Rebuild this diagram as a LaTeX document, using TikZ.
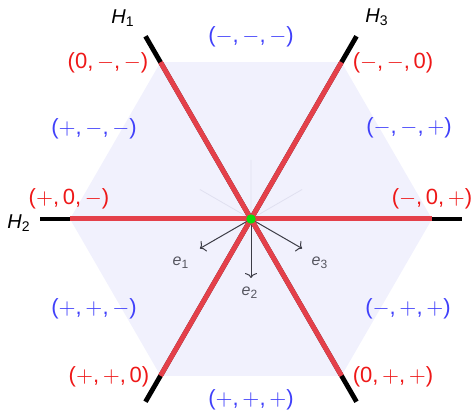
\documentclass[tikz,border=0pt]{standalone}
\usepackage[no-math]{fontspec}
\setmainfont{Liberation Sans}
\usetikzlibrary{arrows.meta}
\definecolor{hexfill}{RGB}{241,241,253}
\definecolor{redline}{RGB}{228,64,74}
\definecolor{redtext}{RGB}{238,24,24}
\definecolor{bluetext}{RGB}{64,64,250}
\definecolor{faint}{RGB}{224,224,240}
\definecolor{arrowgray}{RGB}{60,60,70}
\definecolor{egray}{RGB}{85,85,95}
\definecolor{dotgreen}{RGB}{10,220,10}
\begin{document}
\begin{tikzpicture}[x=0.5pt,y=0.5pt,
  hyper/.style={line width=2.4pt, black},
  redseg/.style={line width=2.5pt, redline},
  faintline/.style={line width=0.4pt, faint},
  basis/.style={line width=0.5pt, arrowgray, -{To[length=2.5pt,width=6pt]}},
  sign/.style={font=\fontsize{11}{13}\selectfont, inner sep=0pt},
  redlab/.style={sign, text=redtext},
  bluelab/.style={sign, text=bluetext},
  hlab/.style={font=\fontsize{10}{12}\selectfont, inner sep=0pt},
  elab/.style={font=\fontsize{8}{10}\selectfont, text=egray, inner sep=0pt}]
\useasboundingbox (0,0) rectangle (474,411);
\begin{scope}[shift={(251,192)}]
  \coordinate (O) at (0,0);
  \foreach \a in {0,60,...,300} {
    \coordinate (V\a) at (\a:181);
    \coordinate (E\a) at (\a:211);
  }
  \foreach \a in {30,90,150} \coordinate (F\a) at (\a:59);
  \foreach \a in {210,270,330} \coordinate (B\a) at (\a:59);
  \fill[hexfill] (V0)--(V60)--(V120)--(V180)--(V240)--(V300)--cycle;
  \draw[faintline] (O)--(F30) (O)--(F90) (O)--(F150);
  \draw[hyper] (E120)--(E300);
  \draw[hyper] (E60)--(E240);
  \draw[hyper] (E180)--(E0);
  \draw[basis] (O)--(B210);
  \draw[basis] (O)--(B270);
  \draw[basis] (O)--(B330);
  \draw[redseg] (V120)--(V300);
  \draw[redseg] (V60)--(V240);
  \draw[redseg] (V180)--(V0);
  \node[circle, fill=dotgreen, minimum size=4.7pt, inner sep=0pt] (dot) at (O) {};
\end{scope}
\node[hlab] (h1) at (123,393) {\itshape H\textsubscript{\upshape 1}};
\node[hlab] (h3) at (377,394) {\itshape H\textsubscript{\upshape 3}};
\node[hlab] (h2) at (19,188) {\itshape H\textsubscript{\upshape 2}};
\node[elab] (e1) at (181,148) {\itshape e\textsubscript{\upshape 1}};
\node[elab] (e2) at (250,118) {\itshape e\textsubscript{\upshape 2}};
\node[elab] (e3) at (320,148) {\itshape e\textsubscript{\upshape 3}};
\node[redlab] (r1) at (108,348) {(0,\,$-$,\,$-$)};
\node[redlab] (r2) at (393,348) {($-$,\,$-$,\,0)};
\node[redlab] (r3) at (69,212) {($+$,\,0,\,$-$)};
\node[redlab] (r4) at (432,212) {($-$,\,0,\,$+$)};
\node[redlab] (r5) at (109,34) {($+$,\,$+$,\,0)};
\node[redlab] (r6) at (393,34) {(0,\,$+$,\,$+$)};
\node[bluelab] (b1) at (251,374) {($-$,\,$-$,\,$-$)};
\node[bluelab] (b2) at (94,282) {($+$,\,$-$,\,$-$)};
\node[bluelab] (b3) at (409,283) {($-$,\,$-$,\,$+$)};
\node[bluelab] (b4) at (94,102) {($+$,\,$+$,\,$-$)};
\node[bluelab] (b5) at (408,102) {($-$,\,$+$,\,$+$)};
\node[bluelab] (b6) at (251,11) {($+$,\,$+$,\,$+$)};
\end{tikzpicture}
\end{document}
